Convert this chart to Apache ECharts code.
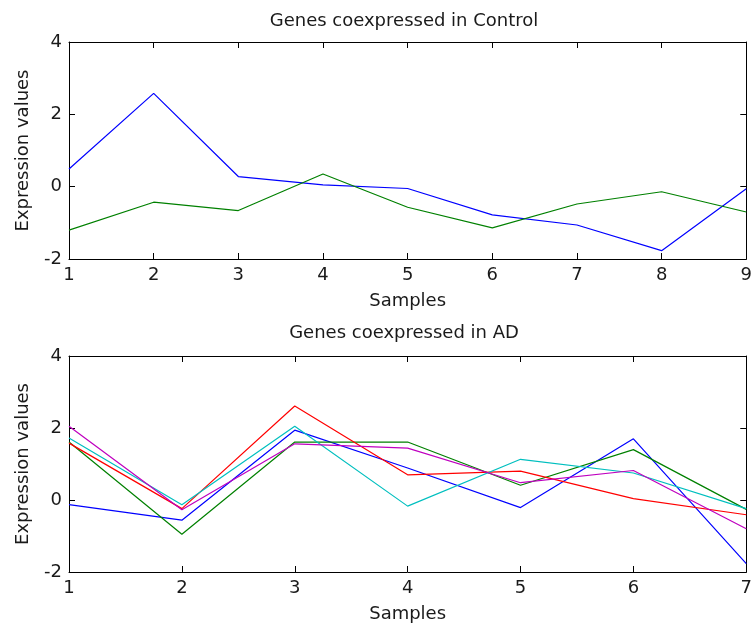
<!DOCTYPE html>
<html>
<head>
<meta charset="utf-8">
<script src="https://cdn.jsdelivr.net/npm/echarts@6/dist/echarts.min.js"></script>
<style>html,body{margin:0;padding:0;background:#fff;}#c{width:755px;height:635px;}</style>
</head>
<body>
<div id="c"></div>
<script>
// Top panel: Genes coexpressed in Control
const controlSamples = [1, 2, 3, 4, 5, 6, 7, 8, 9];
const controlBlue  = [0.49, 2.58, 0.28, 0.05, -0.05, -0.78, -1.06, -1.77, -0.06];
const controlGreen = [-1.20, -0.43, -0.66, 0.35, -0.57, -1.14, -0.48, -0.14, -0.70];

// Bottom panel: Genes coexpressed in AD
const adSamples = [1, 2, 3, 4, 5, 6, 7];
const adBlue    = [-0.13, -0.56, 1.94, 0.89, -0.21, 1.70, -1.77];
const adGreen   = [1.61, -0.95, 1.61, 1.61, 0.41, 1.40, -0.26];
const adRed     = [1.58, -0.24, 2.61, 0.70, 0.80, 0.04, -0.41];
const adCyan    = [1.72, -0.13, 2.05, -0.17, 1.13, 0.75, -0.24];
const adMagenta = [2.05, -0.27, 1.56, 1.44, 0.48, 0.82, -0.80];

const yTicks = [-2, 0, 2, 4];
const titles = ['Genes coexpressed in Control', 'Genes coexpressed in AD'];
const xName = 'Samples';
const yName = 'Expression values';

const FONT = 'DejaVu Sans';
const txt = {fontFamily: FONT, fontSize: 18, color: '#1a1a1a'};

function pairs(xs, ys) { return xs.map((x, i) => [x, ys[i]]); }

const grids = [
  {left: 69, right: 7, top: 42, height: 217},
  {left: 69, right: 7, top: 356, height: 216}
];
const xRanges = [[1, 9], [1, 7]];

const xAxes = [], yAxes = [];
grids.forEach((g, gi) => {
  const lineStyle = {color: '#000', width: 1};
  xAxes.push({
    type: 'value', gridIndex: gi, min: xRanges[gi][0], max: xRanges[gi][1], interval: 1,
    position: 'bottom',
    axisLine: {show: true, onZero: false, lineStyle},
    axisTick: {show: true, inside: true, length: 6, lineStyle},
    axisLabel: Object.assign({margin: 7}, txt),
    splitLine: {show: false},
    name: xName, nameLocation: 'middle', nameGap: 33, nameTextStyle: txt
  });
  xAxes.push({
    type: 'value', gridIndex: gi, min: xRanges[gi][0], max: xRanges[gi][1], interval: 1,
    position: 'top',
    axisLine: {show: true, onZero: false, lineStyle},
    axisTick: {show: true, inside: true, length: 6, lineStyle},
    axisLabel: {show: false},
    splitLine: {show: false}
  });
  yAxes.push({
    type: 'value', gridIndex: gi, min: -2, max: 4, interval: 2,
    position: 'left',
    axisLine: {show: true, onZero: false, lineStyle},
    axisTick: {show: true, inside: true, length: 6, lineStyle},
    axisLabel: Object.assign({margin: 7, formatter: v => yTicks.includes(v) ? String(v) : ''}, txt),
    splitLine: {show: false},
    name: yName, nameLocation: 'middle', nameGap: 37, nameTextStyle: txt
  });
  yAxes.push({
    type: 'value', gridIndex: gi, min: -2, max: 4, interval: 2,
    position: 'right',
    axisLine: {show: true, onZero: false, lineStyle},
    axisTick: {show: true, inside: true, length: 6, lineStyle},
    axisLabel: {show: false},
    splitLine: {show: false}
  });
});

function line(xi, yi, xs, ys, color) {
  return {
    type: 'line', xAxisIndex: xi, yAxisIndex: yi, data: pairs(xs, ys),
    showSymbol: false, symbol: 'none', animation: false,
    lineStyle: {color, width: 1.2}, itemStyle: {color}
  };
}

const option = {
  backgroundColor: '#fff',
  animation: false,
  title: [
    {text: titles[0], left: 399, top: 7, textAlign: 'center', textStyle: Object.assign({fontWeight: 'normal'}, txt)},
    {text: titles[1], left: 399, top: 319, textAlign: 'center', textStyle: Object.assign({fontWeight: 'normal'}, txt)}
  ],
  grid: grids,
  xAxis: xAxes,
  yAxis: yAxes,
  series: [
    line(0, 0, controlSamples, controlBlue, '#0000ff'),
    line(0, 0, controlSamples, controlGreen, '#008000'),
    line(2, 2, adSamples, adBlue, '#0000ff'),
    line(2, 2, adSamples, adGreen, '#008000'),
    line(2, 2, adSamples, adRed, '#ff0000'),
    line(2, 2, adSamples, adCyan, '#00bfbf'),
    line(2, 2, adSamples, adMagenta, '#bf00bf')
  ]
};

const chart = echarts.init(document.getElementById('c'), null, {renderer: 'canvas'});
chart.setOption(option);
</script>
</body>
</html>
